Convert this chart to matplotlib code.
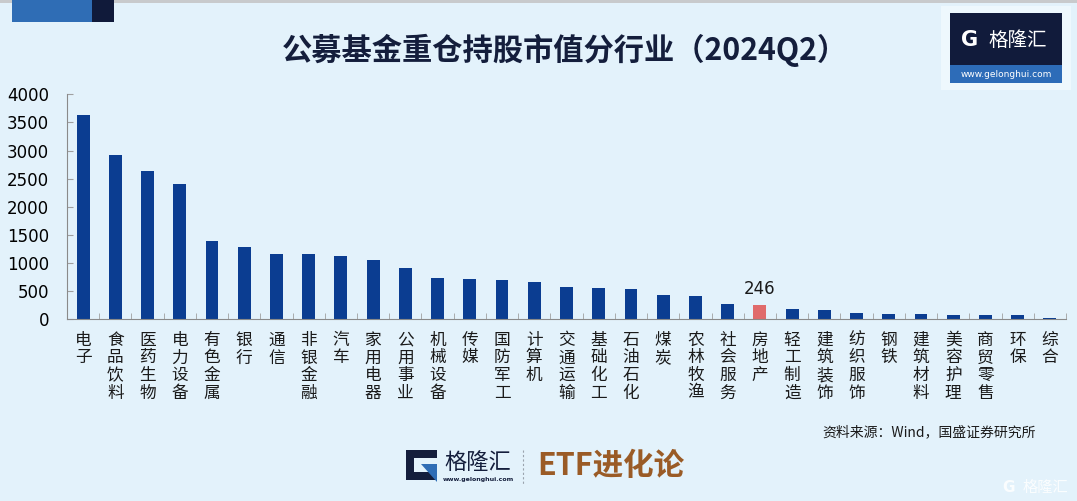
import matplotlib
matplotlib.use("Agg")
import matplotlib.pyplot as plt
from matplotlib.patches import Rectangle, Polygon
from matplotlib.ticker import MultipleLocator, FixedLocator

plt.rcParams['font.family'] = ['Noto Sans CJK SC', 'DejaVu Sans']

# data
industries = ['电子', '食品饮料', '医药生物', '电力设备', '有色金属', '银行', '通信', '非银金融',
              '汽车', '家用电器', '公用事业', '机械设备', '传媒', '国防军工', '计算机', '交通运输',
              '基础化工', '石油石化', '煤炭', '农林牧渔', '社会服务', '房地产', '轻工制造', '建筑装饰',
              '纺织服饰', '钢铁', '建筑材料', '美容护理', '商贸零售', '环保', '综合']
values = [3630, 2920, 2630, 2410, 1390, 1285, 1165, 1160, 1120, 1055, 905, 740, 722, 700, 658, 575,
          556, 533, 437, 410, 277, 246, 178, 160, 117, 94, 90, 76, 76, 72, 20]
highlight = '房地产'
title = '公募基金重仓持股市值分行业（2024Q2）'
source = '资料来源：Wind，国盛证券研究所'

bg = '#E3F2FB'
navy = '#0B3D91'
red = '#E06B6B'
dark = '#141E3C'

W, H = 1077, 501
fig = plt.figure(figsize=(W / 100, H / 100), dpi=100, facecolor=bg)

# decoration layer in pixel coords
deco = fig.add_axes([0, 0, 1, 1], zorder=0)
deco.set_xlim(0, W)
deco.set_ylim(H, 0)
deco.axis('off')
deco.add_patch(Rectangle((0, 0), W, 3, color='#C8CACC', lw=0))
deco.add_patch(Rectangle((12, 0), 80, 22, color='#2F6DB5', lw=0))
deco.add_patch(Rectangle((92, 0), 22, 22, color='#101A3A', lw=0))

# top right logo
deco.add_patch(Rectangle((941, 6), 130, 84, color='#EEF8FD', lw=0))
deco.add_patch(Rectangle((950, 13), 112, 52, color='#111B3B', lw=0))
deco.add_patch(Rectangle((950, 65), 112, 18, color='#2D6CB8', lw=0))
deco.text(970, 40, 'G', color='white', fontsize=15, fontweight='bold', ha='center', va='center',
          family='DejaVu Sans')
deco.text(1018, 40, '格隆汇', color='white', fontsize=14, ha='center', va='center')
deco.text(1006, 74, 'www.gelonghui.com', color='white', fontsize=6.5, ha='center', va='center',
          family='DejaVu Sans')

deco.text(565, 50, title, color=dark, fontsize=21.8, fontweight='bold', ha='center', va='center')
deco.text(1036, 432, source, color='#1A1A1A', fontsize=10, ha='right', va='center')

# bottom logo
deco.add_patch(Polygon([(406, 450), (437, 450), (437, 458), (414, 458), (414, 472), (437, 472),
                        (437, 480), (406, 480)], closed=True, color='#141E3C', lw=0))
deco.add_patch(Polygon([(421, 464), (437, 464), (437, 482)], closed=True, color='#2F6DB5', lw=0))
deco.text(478, 462, '格隆汇', color='#141E3C', fontsize=16, ha='center', va='center')
deco.text(478, 480, 'www.gelonghui.com', color='#141E3C', fontsize=4.5, ha='center', va='center',
          family='DejaVu Sans', fontweight='bold')
deco.plot([523, 523], [450, 484], color='#9AA3AD', lw=0.8, ls=(0, (2, 2)))
deco.text(537, 466, 'ETF进化论', color='#9A5B26', fontsize=22, fontweight='bold', ha='left',
          va='center')
deco.text(1068, 487, '格隆汇', color='white', alpha=0.85, fontsize=11, ha='right', va='center')
deco.text(1015, 487, 'G', color='white', alpha=0.85, fontsize=11, fontweight='bold', ha='right',
          va='center', family='DejaVu Sans')

# main chart
ax = fig.add_axes([67 / W, 1 - 319.3 / H, 999 / W, 225 / H], zorder=1)
ax.set_facecolor('none')
x = list(range(len(industries)))
colors = [red if name == highlight else navy for name in industries]
ax.bar(x, values, width=0.4, color=colors)
i = industries.index(highlight)
ax.text(i, values[i] + 130, str(values[i]), ha='center', va='bottom', fontsize=12,
        color='#1A1A1A', family='DejaVu Sans')

ax.set_xlim(-0.5, len(industries) - 0.5)
ax.set_ylim(0, 4000)
ax.yaxis.set_major_locator(MultipleLocator(500))
ax.set_xticks(x)
ax.set_xticklabels(['\n'.join(name) for name in industries], fontsize=12, color='#1A1A1A',
                   linespacing=1.05)
ax.xaxis.set_minor_locator(FixedLocator([k + 0.5 for k in range(len(industries))]))
ax.tick_params(axis='x', which='major', length=0, pad=9)
ax.tick_params(axis='x', which='minor', direction='in', length=4, color='#A0A0A0')
ax.tick_params(axis='y', direction='in', length=4, color='#A0A0A0', pad=13, labelsize=12)
for lab in ax.get_yticklabels():
    lab.set_family('DejaVu Sans')
for s in ['top', 'right']:
    ax.spines[s].set_visible(False)
ax.spines['left'].set_color('#8A8A8A')
ax.spines['bottom'].set_color('#8A8A8A')

fig.savefig('out.png', dpi=100, facecolor=bg)
